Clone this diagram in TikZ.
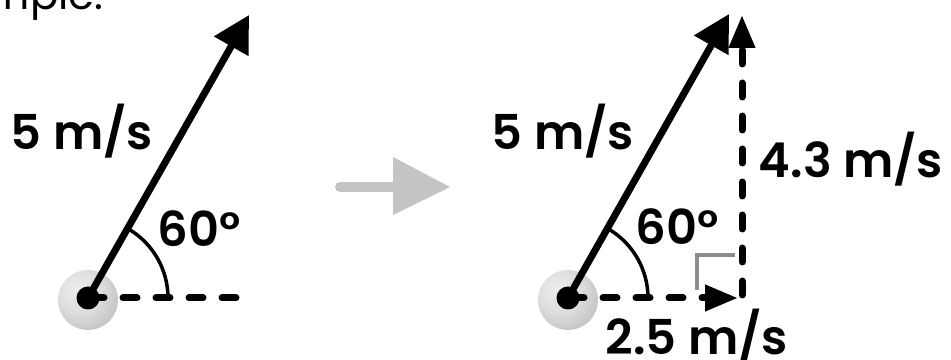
\documentclass[tikz,border=0pt]{standalone}
\usepackage{fontspec}
\setmainfont{Poppins}[UprightFont=* SemiBold]
\newfontfamily\hdrfont{Poppins}
\usetikzlibrary{arrows.meta}
\definecolor{arrowgray}{HTML}{C4C4C4}
\definecolor{markgray}{HTML}{8C8C8C}
\pgfdeclareradialshading{ballshade}{\pgfpoint{-10bp}{10bp}}{%
  color(0bp)=(black!7); color(18bp)=(black!13); color(34bp)=(black!24); color(50bp)=(black!33); color(70bp)=(black!33)}
\tikzset{
  lbl/.style={anchor=base, inner sep=0pt, font=\fontsize{48}{48}\selectfont},
  vec/.style={line width=7pt, -{Triangle[length=36pt,width=38pt]}},
  comp/.style={line width=7pt, line cap=round, dash pattern=on 14pt off 19pt, -{Triangle[length=33pt,width=25pt]}},
  refline/.style={line width=7pt, line cap=round, dash pattern=on 14pt off 19pt},
  anglearc/.style={line width=3.5pt},
  ball/.style={circle, minimum size=60pt, inner sep=0pt, shading=ballshade},
  dot/.style={circle, fill=black, minimum size=23pt, inner sep=0pt},
}
\begin{document}
\begin{tikzpicture}[x=1pt,y=1pt]
\useasboundingbox (0,0) rectangle (951,359);
% header text (cut off)
\node[anchor=base east, inner sep=0pt, font=\hdrfont\fontsize{42}{42}\selectfont] (hdr) at (104,349) {example:};

% ---- left diagram ----
\node[ball] (ballL) at (88,59) {};
\node[dot] (dotL) at (88,61) {};
\coordinate (tipL) at (249,344);
\coordinate (refL) at (242,61);
\draw[refline] ([xshift=2pt]dotL.center) -- (refL);
\draw[vec] (dotL.center) -- (tipL);
\draw[anglearc] ([xshift=80pt]dotL.center) arc (0:60:80);
\node[lbl] (vL) at (82,209) {5 m/s};
\node[lbl] (aL) at (199,112) {60°};

% ---- gray transition arrow ----
\coordinate (gA) at (340,172);
\coordinate (gB) at (393,172);
\draw[arrowgray, line width=10pt, line cap=round] (gA) -- (gB);
\fill[arrowgray] (393,202) -- (450,172) -- (393,144) -- cycle;

% ---- right diagram ----
\node[ball] (ballR) at (568,59) {};
\node[dot] (dotR) at (568,61) {};
\coordinate (tipR) at (729,345);
\coordinate (hx) at (738,61);
\coordinate (vb) at (742,64);
\coordinate (vt) at (742,344);
\draw[markgray, line width=4pt] (697,69) -- (697,104) -- (735,104);
\draw[comp] ([xshift=2pt]dotR.center) -- (hx);
\draw[comp] (vb) -- (vt);
\draw[vec] (dotR.center) -- (tipR);
\draw[anglearc] ([xshift=80pt]dotR.center) arc (0:60:80);
\node[lbl] (vR) at (563,209) {5 m/s};
\node[lbl] (vy) at (851,181) {4.3 m/s};
\node[lbl] (aR) at (677,114) {60°};
\node[lbl] (vx) at (697,5) {2.5 m/s};
\end{tikzpicture}
\end{document}
